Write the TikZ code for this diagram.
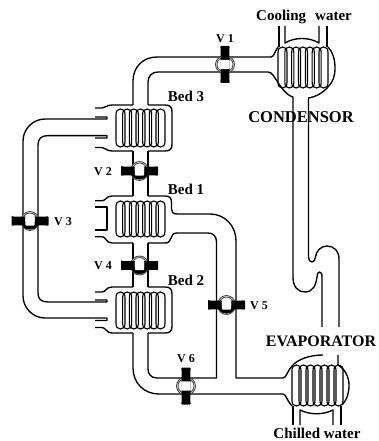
\documentclass[tikz,border=0pt]{standalone}
\usepackage{fontspec}
\setmainfont{Liberation Serif}
\newcommand{\coilrow}[4]{%
  \foreach \k in {0,...,6}{%
    \pgfmathsetmacro{\xa}{#1+\k*(#3-#1-9)/6}%
    \pgfmathsetmacro{\xb}{\xa+9}%
    \pgfmathsetmacro{\xm}{\xa+4.5}%
    \draw[line width=1.15pt] (\xa,#2+5.5) .. controls (\xa,#2+2) and ({\xa+1.5},#2) .. (\xm,#2) .. controls ({\xb-1.5},#2) and (\xb,#2+2) .. (\xb,#2+5.5)
       -- (\xb,#4-5.5) .. controls (\xb,#4-2) and ({\xb-1.5},#4) .. (\xm,#4) .. controls ({\xa+1.5},#4) and (\xa,#4-2) .. (\xa,#4-5.5) -- cycle;
  }}
\tikzset{
  pipe/.style={line width=1.35pt,line join=round},
  lab/.style={font=\bfseries\fontsize{15}{15}\selectfont,inner sep=0pt},
  vlab/.style={font=\bfseries\fontsize{12}{12}\selectfont,inner sep=0pt},
  valve/.pic={
    \fill[white] (0,0) ellipse [x radius=9,y radius=9.5];
    \draw[line width=.9pt,black!75] (0,0) ellipse [x radius=9,y radius=9.5];
    \draw[line width=.8pt,black!75] (0,0) ellipse [x radius=7.5,y radius=8];
    \fill[black,rounded corners=.8pt] (-18.5,-4.6) -- (-18.5,4.6) .. controls (-14,4.6) and (-11,3.8) .. (-7,4.5) -- (7,4.5) .. controls (11,3.8) and (14,4.6) .. (18.5,4.6) -- (18.5,-4.6) .. controls (14,-4.6) and (11,-3.8) .. (7,-4.5) -- (-7,-4.5) .. controls (-11,-3.8) and (-14,-4.6) .. (-18.5,-4.6) -- cycle;
    \fill[white,rounded corners=1pt] (-4.7,-4.7) rectangle (4.7,4.7);
  },
  valvecres/.pic={
    \fill[black] (-8.5,1) .. controls (-8.5,6) and (-4,8.5) .. (0,8.5) .. controls (4,8.5) and (8.5,6) .. (8.5,1) -- cycle;
    \fill[white,rounded corners=1pt] (-4.7,-4.7) rectangle (4.7,4.7);
  }
}
\begin{document}
\begin{tikzpicture}[x=1pt,y=-1pt,pipe]
\useasboundingbox (0,0) rectangle (379,441);
% Bed 3
\coilrow{116}{109}{165}{147}
\draw (95,108) -- (102,108) .. controls (106,108) and (106,105) .. (112,105) -- (133,105)
      (148,105) -- (165,105) .. controls (170,105) and (172,107) .. (172,112) -- (172,144) .. controls (172,149) and (170,151) .. (165,151) -- (148,151)
      (133,151) -- (112,151) .. controls (106,151) and (106,147.5) .. (102,147.5) -- (95,147.5);
\draw (95,117) -- (107,117) -- (107,119) -- (45,119) .. controls (33,119) and (23,129) .. (23,141) -- (23,296) .. controls (23,308) and (33,318) .. (45,318) -- (107,318) -- (107,320.5) -- (95,320.5);
\draw (95,138) -- (107,138) -- (107,135.6) -- (48,135.6) .. controls (41,135.6) and (38,139) .. (38,145) -- (38,293) .. controls (38,299) and (41,302) .. (48,302) -- (107,302) -- (107,300) -- (95,300);
% Bed 1
\coilrow{116}{201}{165}{237}
\draw (95,200.7) -- (102,200.7) .. controls (106,200.7) and (106,196) .. (112,196) -- (133,196)
      (148,196) -- (165,196) .. controls (170,196) and (171.5,198) .. (171.5,203) -- (171.5,209) .. controls (171.5,212) and (173,214) .. (177,214) -- (210,214)
      .. controls (225,214) and (236,226) .. (236,241) -- (236,378) -- (283,378)
      .. controls (286,378) and (287,372) .. (292,366) .. controls (298,359) and (310,355) .. (323,355);
\draw (95,236.7) -- (102,236.7) .. controls (106,236.7) and (106,243) .. (112,243) -- (133,243)
      (148,243) -- (165,243) .. controls (169,243) and (170,241) .. (171,238) .. controls (172,235) and (173,233) .. (177,233) -- (208,233)
      .. controls (213,233) and (216.5,236) .. (216.5,242) -- (216.5,378) -- (157,378)
      .. controls (151,378) and (148,374) .. (148,369) -- (148,333);
\draw (95,207) -- (107,207) -- (107,230) -- (95,230);
% Bed 2
\coilrow{116}{292}{165}{329}
\draw (95,292) -- (102,292) .. controls (106,292) and (106,287) .. (112,287) -- (133,287)
      (148,287) -- (165,287) .. controls (170,287) and (172,289) .. (172,294) -- (172,326) .. controls (172,331) and (170,333) .. (165,333) -- (148,333)
      (133,333) -- (112,333) .. controls (106,333) and (106,327.5) .. (102,327.5) -- (95,327.5);
\draw (133,333) -- (133,368) .. controls (133,383) and (144,394) .. (159,394) -- (283,394) .. controls (286,394) and (287,401) .. (292,406);
% vertical pipes between beds
\draw (133,151) -- (133,196) (148,151) -- (148,196) (133,243) -- (133,287) (148,243) -- (148,287);
% top pipe to condenser
\draw (133,105) -- (133,81) .. controls (133,67) and (143,57) .. (157,57) -- (271,57) .. controls (274,57) and (275,51) .. (278,47);
\draw (148,105) -- (148,82) .. controls (148,76) and (152,72) .. (158,72) -- (268,72) .. controls (272,72) and (274,77) .. (277,81) .. controls (281,87) and (286,95) .. (293,97) -- (293,103);
% condenser
\coilrow{278}{47}{328}{88}
\draw (328,47) .. controls (333,52) and (335,60) .. (335,68) .. controls (335,76) and (333,82) .. (328,87) .. controls (323,93) and (315,97) .. (308.5,98) -- (308.5,103);
\draw (279,26) -- (279,47) (327,26) -- (327,47);
\draw (285,26) -- (285,43) .. controls (295,37) and (309,37) .. (319,43) -- (319,26);
% vapour line
\draw (293,103) -- (293,277) .. controls (293,287) and (298,292) .. (305,292) .. controls (313,292) and (316,285) .. (317,277) .. controls (317,274) and (318,272) .. (319.5,272) .. controls (321.5,272) and (322,274) .. (322,278) -- (322,327);
\draw (308.5,103) -- (308.5,257) .. controls (308.5,260) and (310,262) .. (312,262) .. controls (314,262) and (315,260) .. (315.5,257) .. controls (316,251) and (321,246) .. (327,246) .. controls (334,246) and (339,251) .. (339,259) -- (339,327);
% evaporator
\coilrow{292}{365}{343}{406}
\draw (338,355) -- (338,365) .. controls (345,369) and (349,377) .. (349,385) .. controls (349,393) and (347,400) .. (342,405);
\draw (293,406) -- (293,425) (341,406) -- (341,425);
\draw (300,425) -- (300,410) .. controls (310,415) and (323,415) .. (333,410) -- (333,425);
% valves
\path (225,64.5) pic[rotate=90] {valve};
\path (139.5,171) pic {valve} pic {valvecres};
\path (30,221) pic {valve} pic {valvecres};
\path (139.5,265.5) pic {valve} pic {valvecres};
\path (226.5,305) pic {valve} pic {valvecres};
\path (186,386) pic[rotate=90] {valve};
% labels
\node[lab] (cw) at (304,17) {Cooling\hspace{9pt}water};
\node[lab,font=\bfseries\fontsize{16.5}{16.5}\selectfont] (cond) at (301,117) {CONDENSOR};
\node[lab,font=\bfseries\fontsize{16}{16}\selectfont] (evap) at (321,341) {EVAPORATOR};
\node[lab] (chw) at (317,433.5) {Chilled water};
\node[lab] (b3) at (186,96) {Bed 3};
\node[lab] (b1) at (186,189) {Bed 1};
\node[lab] (b2) at (186,280) {Bed 2};
\node[vlab] (v1) at (225,39) {V 1};
\node[vlab] (v2) at (103,172) {V 2};
\node[vlab] (v3) at (63,222) {V 3};
\node[vlab] (v4) at (103,266) {V 4};
\node[vlab] (v5) at (259,306) {V 5};
\node[vlab] (v6) at (186,359) {V 6};
\end{tikzpicture}
\end{document}
